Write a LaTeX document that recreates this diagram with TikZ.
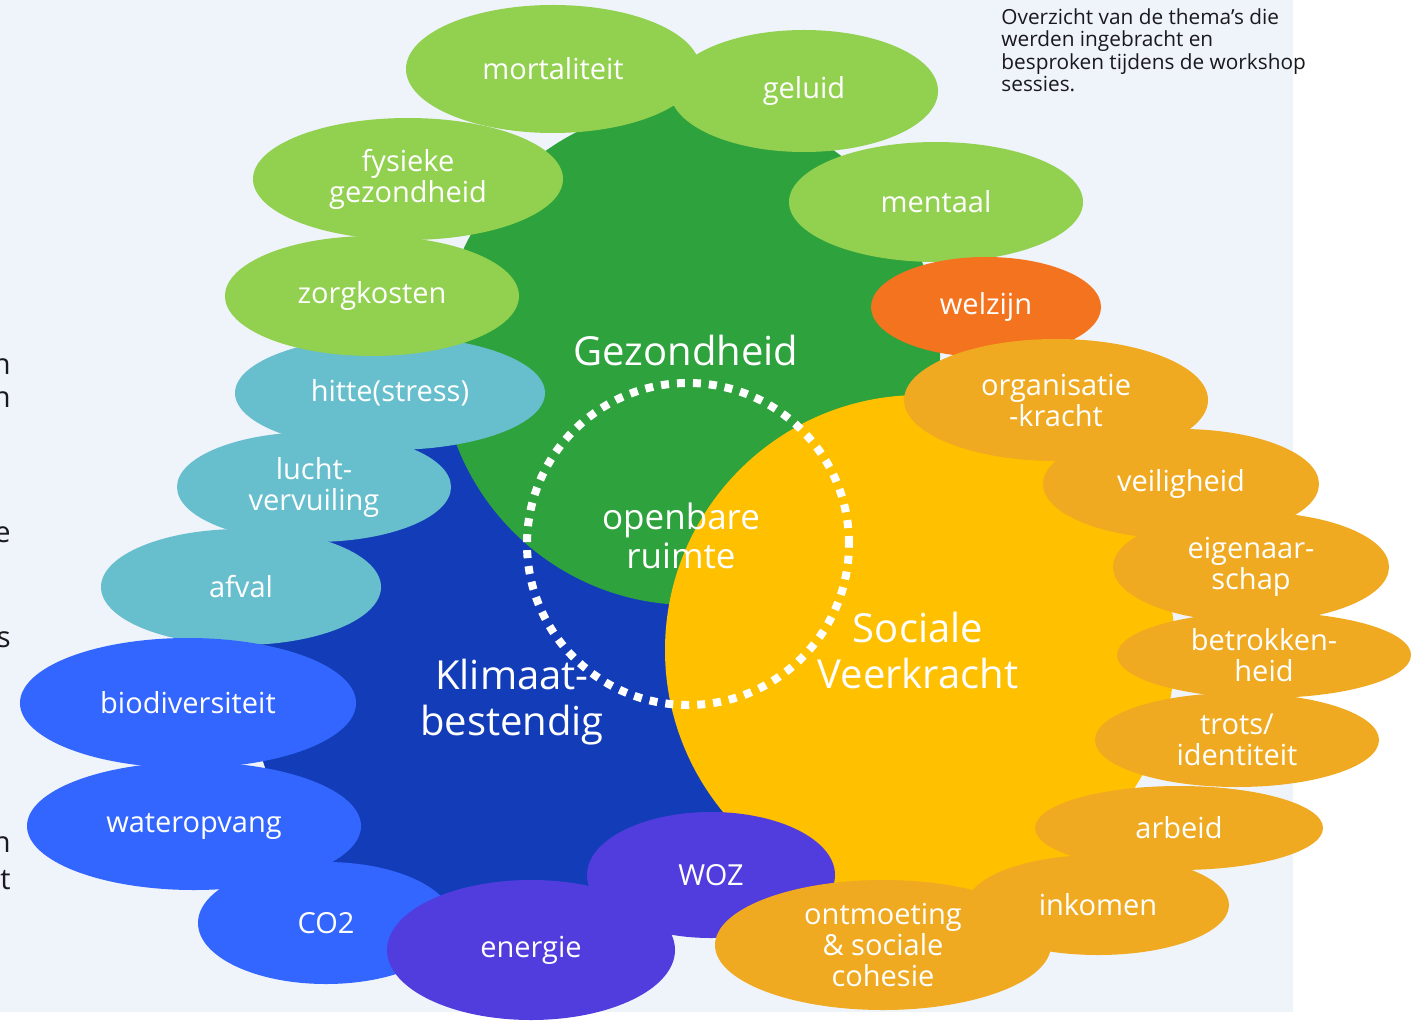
\documentclass[tikz,border=0pt]{standalone}
\usepackage{fontspec}
\setmainfont{Open Sans}
\usetikzlibrary{shapes.geometric,positioning}
\definecolor{paper}{RGB}{239,243,250}
\definecolor{ink}{RGB}{25,25,30}
\definecolor{leaf}{RGB}{146,208,80}
\definecolor{forest}{RGB}{46,162,60}
\definecolor{navy}{RGB}{19,61,184}
\definecolor{sun}{RGB}{255,192,0}
\definecolor{flame}{RGB}{244,115,30}
\definecolor{amber}{RGB}{239,170,34}
\definecolor{lagoon}{RGB}{103,191,205}
\definecolor{azure}{RGB}{51,102,255}
\definecolor{violet}{RGB}{81,60,221}
\tikzset{
  hub/.style={circle,fill=#1,inner sep=0pt},
  hub/.default=forest,
  bubble/.style={ellipse,fill=#1,text=white,inner sep=0pt,align=center,
    font=\fontsize{14.5}{15.5}\selectfont},
  bubble/.default=leaf,
  headline/.style={text=white,align=center,inner sep=0pt,
    font=\fontsize{20}{23}\selectfont},
  note/.style={text=ink,align=left,inner sep=0pt,
    font=\fontsize{10.4}{11.3}\selectfont},
}
\begin{document}
\begin{tikzpicture}[x=0.5pt,y=-0.5pt]
  \useasboundingbox (0,0) rectangle (1411,1021);
  \fill[paper] (0,0) rectangle (1293,1012);
  % letters cut off at the left edge
  \foreach \ch/\y [count=\i] in {n/367,n/400,e/535,s/640,n/845,t/880}
    \node[text=ink,anchor=east,inner sep=0pt,font=\fontsize{14.5}{15.5}\selectfont] (edge\i) at (11,\y) {\ch};
  \node[note,anchor=north west] (intro) at (1001,8) {Overzicht van de thema’s die\\werden ingebracht en\\besproken tijdens de workshop\\sessies.};
  % the three themes
  \node[hub=navy,minimum size=260pt] (klimaat) at (510,680) {};
  \node[hub=forest,minimum size=250pt] (gezond) at (690,355) {};
  \node[hub=sun,minimum size=255pt] (sociaal) at (920,650) {};
  \node[circle,draw=white,line width=4pt,dash pattern=on 4pt off 4pt,
    minimum size=161pt,inner sep=0pt] (openbaar) at (688,544) {};
  \node[headline] (gezond-t) at (686,350) {Gezondheid};
  \node[headline] (klimaat-t) at (512,702) {Klimaat-\\bestendig};
  \node[headline] (sociaal-t) at (918,650) {Sociale\\Veerkracht};
  \node[headline,font=\fontsize{17.5}{19.5}\selectfont] (openbaar-t) at (681,536) {openbare\\ruimte};
  % gezondheid
  \node[bubble,minimum width=147pt,minimum height=64pt] (mort) at (553,69) {mortaliteit};
  \node[bubble,minimum width=134pt,minimum height=61pt] (geluid) at (804,91) {geluid};
  \node[bubble,minimum width=155pt,minimum height=61pt] (fysiek) at (408,179) {fysieke\\gezondheid};
  \node[bubble,minimum width=147pt,minimum height=60pt] (mentaal) at (936,202) {mentaal};
  \node[bubble=flame,minimum width=115pt,minimum height=50pt] (welzijn) at (986,307) {welzijn};
  % klimaat
  \node[bubble=lagoon,minimum width=155pt,minimum height=57pt] (hitte) at (390,393) {hitte(stress)};
  \node[bubble,minimum width=147pt,minimum height=60pt] (zorg) at (372,296) {zorgkosten};
  \node[bubble=lagoon,minimum width=137pt,minimum height=55pt] (lucht) at (314,487) {lucht-\\vervuiling};
  \node[bubble=lagoon,minimum width=140pt,minimum height=58pt] (afval) at (241,587) {afval};
  \node[bubble=azure,minimum width=168pt,minimum height=65pt] (bio) at (188,703) {biodiversiteit};
  \node[bubble=azure,minimum width=167pt,minimum height=64pt] (water) at (194,826) {wateropvang};
  \node[bubble=azure,minimum width=128pt,minimum height=61pt] (co2) at (326,923) {CO2};
  \node[bubble=violet,minimum width=124pt,minimum height=63pt] (woz) at (711,875) {WOZ};
  \node[bubble=violet,minimum width=144pt,minimum height=70pt] (energie) at (531,950) {energie};
  % sociale veerkracht
  \node[bubble=amber,minimum width=152pt,minimum height=61pt] (organisatie) at (1056,400) {organisatie\\-kracht};
  \node[bubble=amber,minimum width=138pt,minimum height=55pt] (veilig) at (1181,484) {veiligheid};
  \node[bubble=amber,minimum width=138pt,minimum height=55pt] (eigen) at (1251,567) {eigenaar-\\schap};
  \node[bubble=amber,minimum width=147pt,minimum height=43pt] (betrokken) at (1264,655) {betrokken-\\heid};
  \node[bubble=amber,minimum width=142pt,minimum height=47pt] (trots) at (1237,740) {trots/\\identiteit};
  \node[bubble=amber,minimum width=144pt,minimum height=42pt] (arbeid) at (1179,828) {arbeid};
  \node[bubble=amber,minimum width=131pt,minimum height=50pt] (inkomen) at (1098,905) {inkomen};
  \node[bubble=amber,minimum width=168pt,minimum height=65pt] (ontmoeting) at (883,945) {ontmoeting\\\& sociale\\cohesie};
\end{tikzpicture}
\end{document}
